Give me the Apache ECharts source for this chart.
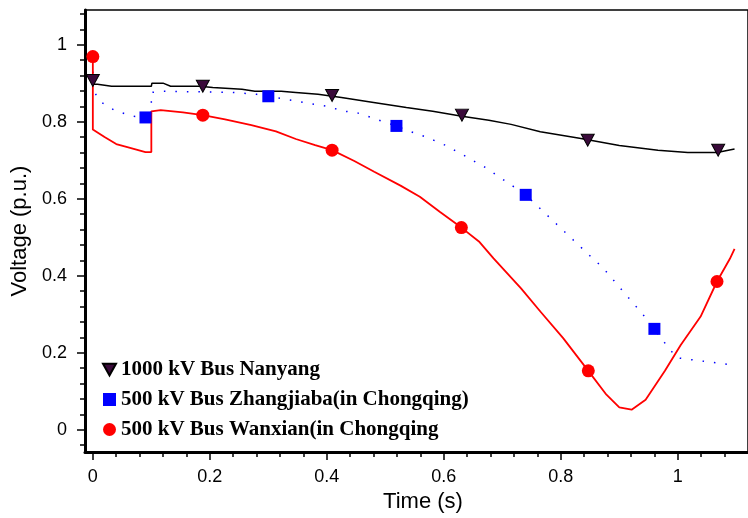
<!DOCTYPE html>
<html>
<head>
<meta charset="utf-8">
<script src="https://cdn.jsdelivr.net/npm/echarts@6/dist/echarts.min.js"></script>
<style>
  html, body { margin: 0; padding: 0; background: #fff; }
  #chart { width: 748px; height: 518px; }
</style>
</head>
<body>
<div id="chart"></div>
<script>
// 数据
var legendNames = ['1000 kV Bus Nanyang', '500 kV Bus Zhangjiaba(in Chongqing)', '500 kV Bus Wanxian(in Chongqing'];

// 曲线: [时间, 电压]
var nanyangLine = [
  [0, 0.897], [0.008, 0.897], [0.032, 0.892], [0.1, 0.892], [0.101, 0.9], [0.12, 0.9],
  [0.133, 0.892], [0.183, 0.892], [0.205, 0.889], [0.255, 0.884], [0.277, 0.879], [0.322, 0.879],
  [0.347, 0.876], [0.385, 0.871], [0.425, 0.863], [0.48, 0.85], [0.536, 0.837], [0.581, 0.827],
  [0.631, 0.814], [0.677, 0.804], [0.715, 0.793], [0.765, 0.774], [0.832, 0.757], [0.9, 0.738],
  [0.966, 0.726], [1.017, 0.72], [1.067, 0.72], [1.097, 0.729]
];
var zhangjiabaLine = [
  [0, 0.93], [0, 0.884], [0.012, 0.853], [0.02, 0.845], [0.04, 0.827], [0.059, 0.819], [0.07, 0.814],
  [0.09, 0.811], [0.1, 0.806], [0.1, 0.876], [0.12, 0.879], [0.24, 0.876], [0.28, 0.871], [0.30, 0.866],
  [0.33, 0.858], [0.35, 0.853], [0.38, 0.845], [0.40, 0.84], [0.43, 0.827], [0.45, 0.824], [0.47, 0.814],
  [0.5, 0.798], [0.519, 0.789], [0.54, 0.776], [0.57, 0.76], [0.59, 0.747], [0.61, 0.734], [0.62, 0.724],
  [0.64, 0.708], [0.66, 0.69], [0.67, 0.682], [0.74, 0.61], [0.86, 0.437], [0.87, 0.424], [0.94, 0.30],
  [0.96, 0.262], [0.968, 0.244], [0.998, 0.187], [1.089, 0.169]
];
var wanxianLine = [
  [0, 0.969], [0, 0.78], [0.02, 0.76], [0.04, 0.742], [0.059, 0.734], [0.09, 0.721], [0.1, 0.721],
  [0.1, 0.827], [0.116, 0.83], [0.154, 0.824], [0.188, 0.817], [0.226, 0.806], [0.271, 0.791],
  [0.313, 0.775], [0.347, 0.755], [0.38, 0.739], [0.409, 0.726], [0.447, 0.698], [0.481, 0.67],
  [0.526, 0.634], [0.559, 0.605], [0.593, 0.566], [0.63, 0.525], [0.66, 0.489], [0.685, 0.445],
  [0.732, 0.367], [0.765, 0.307], [0.804, 0.238], [0.847, 0.153], [0.878, 0.091], [0.9, 0.058],
  [0.921, 0.052], [0.945, 0.078], [0.978, 0.153], [1.005, 0.22], [1.039, 0.294], [1.067, 0.385],
  [1.089, 0.444], [1.097, 0.47]
];

// 标记点
var nanyangMarks = [[0, 0.907], [0.188, 0.892], [0.409, 0.868], [0.631, 0.817], [0.846, 0.752], [1.069, 0.726]];
var zhangjiabaMarks = [[0.09, 0.811], [0.30, 0.866], [0.519, 0.789], [0.74, 0.61], [0.96, 0.262]];
var wanxianMarks = [[0, 0.969], [0.188, 0.817], [0.409, 0.726], [0.63, 0.525], [0.847, 0.153], [1.067, 0.385]];

// 刻度
var xMajor = [0, 0.2, 0.4, 0.6, 0.8, 1];
var xMinor = [0.04, 0.08, 0.12, 0.16, 0.24, 0.28, 0.32, 0.36, 0.44, 0.48, 0.52, 0.56,
              0.64, 0.68, 0.72, 0.76, 0.84, 0.88, 0.92, 0.96, 1.04, 1.08];
var yMajor = [0, 0.2, 0.4, 0.6, 0.8, 1];
var yMinor = [-0.04, 0.04, 0.08, 0.12, 0.16, 0.24, 0.28, 0.32, 0.36, 0.44, 0.48, 0.52, 0.56,
              0.64, 0.68, 0.72, 0.76, 0.84, 0.88, 0.92, 0.96, 1.04, 1.08];

(function(){
    var myChart = echarts.init(document.getElementById('chart'));
    var tickFont = 'Liberation Sans, Arial, sans-serif';
    var option = {
        animation: false,
        backgroundColor: '#fff',
        grid: {
            left: 85,
            top: 10,
            width: 677,
            height: 445,
            show: true,
            borderColor: '#000',
            borderWidth: 1.5
        },
        legend: {
            orient: 'vertical',
            left: 97,
            top: 354,
            itemGap: 9,
            itemWidth: 13,
            itemHeight: 13,
            data: legendNames,
            textStyle: {
                fontFamily: 'Liberation Serif, Times New Roman, serif',
                fontWeight: 'bold',
                fontSize: 21,
                color: '#000'
            }
        },
        xAxis: [
            {
                type: 'value',
                min: -0.0134,
                max: 1.12,
                position: 'bottom',
                name: 'Time (s)',
                nameLocation: 'middle',
                nameGap: 38,
                nameTextStyle: {
                    fontFamily: tickFont,
                    fontSize: 22,
                    color: '#000',
                    padding: [0, 0, 0, 13]
                },
                axisLine: { onZero: false, lineStyle: { color: '#000', width: 3 } },
                axisTick: { customValues: xMajor, length: 8, lineStyle: { color: '#000', width: 1.5 } },
                axisLabel: { customValues: xMajor, fontFamily: tickFont, fontSize: 18, color: '#000', margin: 16 },
                splitLine: { show: false }
            },
            {
                type: 'value',
                min: -0.0134,
                max: 1.12,
                position: 'bottom',
                axisLine: { show: false, onZero: false },
                axisTick: { customValues: xMinor, length: 5, lineStyle: { color: '#000', width: 1.5 } },
                axisLabel: { show: false },
                splitLine: { show: false }
            }
        ],
        yAxis: [
            {
                type: 'value',
                min: -0.058,
                max: 1.09,
                position: 'left',
                name: 'Voltage (p.u.)',
                nameLocation: 'middle',
                nameGap: 50,
                nameTextStyle: {
                    fontFamily: tickFont,
                    fontSize: 22,
                    color: '#000',
                    padding: [0, 0, 0, 0]
                },
                axisLine: { onZero: false, lineStyle: { color: '#000', width: 3 } },
                axisTick: { customValues: yMajor, length: 8, lineStyle: { color: '#000', width: 1.5 } },
                axisLabel: { customValues: yMajor, fontFamily: tickFont, fontSize: 18, color: '#000', margin: 18 },
                splitLine: { show: false }
            },
            {
                type: 'value',
                min: -0.058,
                max: 1.09,
                position: 'left',
                axisLine: { show: false, onZero: false },
                axisTick: { customValues: yMinor, length: 5, lineStyle: { color: '#000', width: 1.5 } },
                axisLabel: { show: false },
                splitLine: { show: false }
            }
        ],
        series: [
            {
                name: 'Nanyang curve',
                type: 'line',
                data: nanyangLine,
                showSymbol: false,
                lineStyle: { color: '#000', width: 1.5 },
                z: 2
            },
            {
                name: 'Zhangjiaba curve',
                type: 'line',
                data: zhangjiabaLine,
                showSymbol: false,
                lineStyle: { color: '#0000ff', width: 1.5, type: [1.5, 10] },
                z: 2
            },
            {
                name: 'Wanxian curve',
                type: 'line',
                data: wanxianLine,
                showSymbol: false,
                lineStyle: { color: '#ff0000', width: 1.8 },
                z: 2
            },
            {
                name: legendNames[0],
                type: 'scatter',
                data: nanyangMarks,
                symbol: 'path://M0,0L10,0L5,9Z',
                symbolSize: [13, 12],
                itemStyle: { color: '#3a0a3a', borderColor: '#000', borderWidth: 1, opacity: 1 },
                z: 5
            },
            {
                name: legendNames[1],
                type: 'scatter',
                data: zhangjiabaMarks,
                symbol: 'rect',
                symbolSize: 12,
                itemStyle: { color: '#0000ff', opacity: 1 },
                z: 5
            },
            {
                name: legendNames[2],
                type: 'scatter',
                data: wanxianMarks,
                symbol: 'circle',
                symbolSize: 13,
                itemStyle: { color: '#ff0000', opacity: 1 },
                z: 5
            }
        ]
    };
    myChart.setOption(option);
    window.addEventListener("resize", function(){
        myChart.resize();
    });
})();
</script>
</body>
</html>
